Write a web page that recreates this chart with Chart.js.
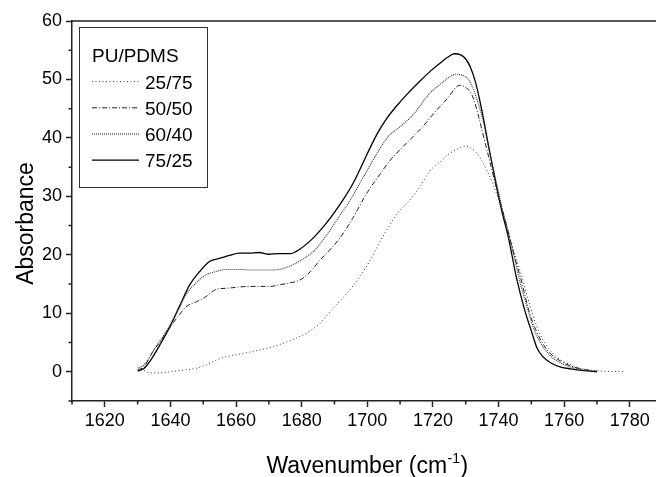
<!DOCTYPE html>
<html><head><meta charset="utf-8">
<script src="https://cdn.jsdelivr.net/npm/chart.js@4.4.1/dist/chart.umd.min.js"></script>
<style>html,body{margin:0;padding:0;background:#fff;} #wrap{width:656px;height:477px;}</style>
</head><body><div id="wrap"><canvas id="c" width="656" height="477"></canvas></div>
<script>
// ---- data ----
const seriesLabels = ['25/75', '50/50', '60/40', '75/25'];
const legendTitle = 'PU/PDMS';

const wn2575 = [1632, 1634, 1637, 1640, 1644, 1648, 1651, 1654, 1657.2, 1661, 1665.3, 1668.5, 1671.4, 1675, 1678.5, 1680.5, 1682.6, 1685.6, 1688.7, 1692, 1695, 1698, 1701, 1704, 1706.5, 1709.5, 1713, 1716, 1719, 1722, 1725, 1727.5, 1729.8, 1731.5, 1733.4, 1735, 1736.4, 1738, 1740, 1742, 1744.5, 1747, 1749.5, 1751.5, 1754, 1756.5, 1759, 1762, 1765, 1768, 1772, 1778];
const abs2575 = [0.2, -0.2, -0.2, 0.0, 0.3, 0.6, 1.2, 2.0, 2.6, 3.0, 3.5, 3.9, 4.3, 5.0, 5.8, 6.3, 7.0, 8.3, 10.3, 12.3, 14.2, 16.5, 19.2, 22.4, 24.8, 27.3, 29.4, 31.6, 34.3, 35.8, 37.3, 38.1, 38.6, 38.3, 37.4, 36.0, 34.5, 32.5, 29.5, 26.0, 21.0, 16.5, 11.5, 8.0, 5.0, 3.2, 2.0, 1.2, 0.6, 0.3, 0.1, 0.05];

const wn5050 = [1630, 1632, 1634.8, 1637, 1639.9, 1642.5, 1645, 1648, 1651, 1654, 1657.5, 1661, 1664, 1667.3, 1670.5, 1673.4, 1676.5, 1679.5, 1682.6, 1685.6, 1688.5, 1691.7, 1695.5, 1699.8, 1703.5, 1707, 1710, 1713, 1717, 1721.2, 1724.5, 1727.3, 1728.5, 1730.3, 1731.5, 1732.5, 1734, 1736, 1738, 1740, 1742, 1744.5, 1747, 1749.5, 1751.5, 1753.5, 1756, 1759, 1762, 1766, 1770];
const abs5050 = [0.3, 0.9, 3.6, 5.2, 7.6, 9.6, 11.2, 12.0, 12.9, 14.1, 14.3, 14.5, 14.6, 14.6, 14.6, 14.9, 15.2, 15.7, 17.1, 19.1, 20.8, 22.9, 26.2, 30.5, 33.5, 36.2, 38.0, 39.7, 42.0, 44.8, 46.8, 48.8, 49.0, 48.5, 47.8, 46.5, 43.5, 39.0, 34.5, 30.0, 26.0, 20.5, 15.5, 10.0, 7.0, 4.8, 3.0, 1.8, 1.0, 0.4, 0.1];

const wn6040 = [1630, 1632, 1635, 1638, 1641, 1645, 1648, 1650, 1653, 1657, 1661, 1665, 1669, 1673, 1676.5, 1679, 1681.5, 1684, 1687.5, 1691, 1695.5, 1699, 1703, 1706.5, 1710, 1714, 1719, 1722.5, 1725, 1727, 1729, 1730.5, 1732, 1733.5, 1735.5, 1737.5, 1739.5, 1741.5, 1744, 1746.5, 1749, 1751, 1753, 1755.5, 1758, 1761, 1764, 1768];
const abs6040 = [0.6, 1.2, 3.8, 6.3, 9.0, 13.4, 15.3, 16.3, 17.0, 17.5, 17.5, 17.4, 17.4, 17.5, 18.1, 18.8, 19.7, 20.8, 23.3, 26.2, 30.0, 33.5, 37.4, 40.3, 41.9, 44.0, 47.6, 49.3, 50.4, 50.9, 50.7, 50.2, 48.8, 46.5, 42.5, 37.0, 32.0, 27.0, 21.5, 15.5, 10.5, 7.0, 4.8, 2.9, 1.8, 1.0, 0.5, 0.1];

const wn7525 = [1630, 1632, 1634, 1637, 1640, 1643, 1646, 1649, 1652, 1655, 1658, 1661, 1664, 1667, 1670, 1673, 1676.5, 1679.5, 1683, 1686, 1689, 1692.5, 1696, 1700, 1703, 1706, 1709, 1712, 1716, 1719, 1722, 1724.5, 1726.5, 1728.5, 1730, 1731.5, 1733, 1735, 1737, 1739, 1741, 1743, 1745.5, 1748, 1750, 1751.7, 1753.5, 1756, 1759, 1762, 1766, 1770];
const abs7525 = [0.1, 0.6, 2.0, 4.8, 7.9, 11.5, 15.0, 17.2, 18.9, 19.4, 19.9, 20.3, 20.3, 20.4, 20.1, 20.2, 20.2, 21.0, 22.6, 24.4, 26.5, 29.3, 32.6, 37.3, 40.7, 43.4, 45.5, 47.4, 49.7, 51.3, 52.7, 53.8, 54.4, 54.2, 53.5, 52.0, 49.5, 44.5, 38.5, 32.8, 27.5, 23.0, 16.0, 10.5, 7.0, 4.1, 2.6, 1.5, 0.8, 0.5, 0.2, 0.0];

const xTickValues = [1620, 1640, 1660, 1680, 1700, 1720, 1740, 1760, 1780];
const xMinorTicks = [1610, 1630, 1650, 1670, 1690, 1710, 1730, 1750, 1770, 1790];
const yTickValues = [0, 10, 20, 30, 40, 50, 60];
const yMinorTicks = [-5, 5, 15, 25, 35, 45, 55];
const xTitleMain = 'Wavenumber (cm';
const xTitleSup = '-1';
const xTitleEnd = ')';
const yTitle = 'Absorbance';

// ---- rendering ----
const FONT = '"Liberation Sans", Arial, Helvetica, sans-serif';
function pts(xs, ys) { return xs.map((x, i) => ({ x: x, y: ys[i] })); }

const styles = [
  { borderColor: '#333', borderWidth: 1, borderDash: [1, 2.5] },
  { borderColor: '#222', borderWidth: 1, borderDash: [5, 2, 1, 2] },
  { borderColor: '#333', borderWidth: 1.1, borderDash: [1, 1] },
  { borderColor: '#000', borderWidth: 1.3, borderDash: [] }
];
const seriesData = [pts(wn2575, abs2575), pts(wn5050, abs5050), pts(wn6040, abs6040), pts(wn7525, abs7525)];

const datasets = seriesLabels.map((lab, i) => Object.assign({
  label: lab,
  data: seriesData[i],
  pointRadius: 0,
  fill: false,
  cubicInterpolationMode: 'monotone'
}, styles[i]));

const decor = {
  id: 'decor',
  afterDraw(chart) {
    const ctx = chart.ctx;
    const { left, right, top, bottom } = chart.chartArea;
    const xs = chart.scales.x, ys = chart.scales.y;
    ctx.save();
    // top frame line
    ctx.strokeStyle = '#222'; ctx.lineWidth = 1.5;
    ctx.beginPath(); ctx.moveTo(left, top); ctx.lineTo(right, top); ctx.stroke();
    // minor ticks
    ctx.beginPath();
    xMinorTicks.forEach(v => {
      if (v < xs.min || v > xs.max) return;
      const px = xs.getPixelForValue(v);
      ctx.moveTo(px, bottom); ctx.lineTo(px, bottom + 3.5);
    });
    yMinorTicks.forEach(v => {
      const py = ys.getPixelForValue(v);
      ctx.moveTo(left - 3.5, py); ctx.lineTo(left, py);
    });
    ctx.stroke();

    // x title with superscript
    ctx.fillStyle = '#000';
    ctx.textBaseline = 'alphabetic';
    ctx.textAlign = 'left';
    ctx.font = '23px ' + FONT;
    const w1 = ctx.measureText(xTitleMain).width;
    const w3 = ctx.measureText(xTitleEnd).width;
    ctx.font = '14px ' + FONT;
    const w2 = ctx.measureText(xTitleSup).width;
    const cx = (xs.getPixelForValue(1610) + xs.getPixelForValue(1790)) / 2;
    let sx = cx - (w1 + w2 + w3 + 1) / 2;
    const base = 473;
    ctx.font = '23px ' + FONT;
    ctx.fillText(xTitleMain, sx, base);
    ctx.font = '14px ' + FONT;
    ctx.fillText(xTitleSup, sx + w1 + 0.5, base - 10);
    ctx.font = '23px ' + FONT;
    ctx.fillText(xTitleEnd, sx + w1 + w2 + 1, base);

    // y title
    ctx.save();
    ctx.translate(32.5, 223.5);
    ctx.rotate(-Math.PI / 2);
    ctx.textAlign = 'center';
    ctx.font = '23px ' + FONT;
    ctx.fillText(yTitle, 0, 0);
    ctx.restore();

    // legend
    ctx.strokeStyle = '#333'; ctx.lineWidth = 1;
    ctx.setLineDash([]);
    ctx.strokeRect(79.5, 27.5, 128, 160);
    ctx.font = '19px ' + FONT;
    ctx.textAlign = 'left';
    ctx.fillStyle = '#000';
    ctx.fillText(legendTitle, 92, 62);
    chart.data.datasets.forEach((ds, i) => {
      const cy = 81.6 + i * 26.2;
      ctx.save();
      ctx.strokeStyle = ds.borderColor;
      ctx.lineWidth = ds.borderWidth;
      ctx.setLineDash(ds.borderDash || []);
      ctx.beginPath(); ctx.moveTo(92, cy); ctx.lineTo(139, cy); ctx.stroke();
      ctx.restore();
      ctx.fillText(ds.label, 145, cy + 7);
    });
    ctx.restore();
  }
};

new Chart(document.getElementById('c'), {
  type: 'line',
  data: { datasets: datasets },
  options: {
    responsive: false,
    animation: false,
    devicePixelRatio: 1,
    layout: { padding: { top: 21, right: 0, left: 0, bottom: 0 } },
    plugins: { legend: { display: false }, tooltip: { enabled: false } },
    scales: {
      x: {
        type: 'linear', min: 1610, max: 1788,
        afterBuildTicks: s => { s.ticks = xTickValues.map(v => ({ value: v })); },
        afterFit: s => { s.height = 76; },
        grid: { drawOnChartArea: false, drawTicks: true, tickLength: 6, tickColor: '#222', tickWidth: 1.5 },
        border: { color: '#222', width: 1.5 },
        ticks: { color: '#000', font: { family: FONT, size: 18 }, padding: 3, maxRotation: 0, autoSkip: false, callback: v => String(v) }
      },
      y: {
        type: 'linear', min: -5, max: 60,
        afterBuildTicks: s => { s.ticks = yTickValues.map(v => ({ value: v })); },
        afterFit: s => { s.width = 72; },
        grid: { drawOnChartArea: false, drawTicks: true, tickLength: 6, tickColor: '#222', tickWidth: 1.5 },
        border: { color: '#222', width: 1.5 },
        ticks: { color: '#000', font: { family: FONT, size: 18 }, padding: 4, autoSkip: false, callback: v => String(v) }
      }
    }
  },
  plugins: [decor]
});
</script>
</body></html>
